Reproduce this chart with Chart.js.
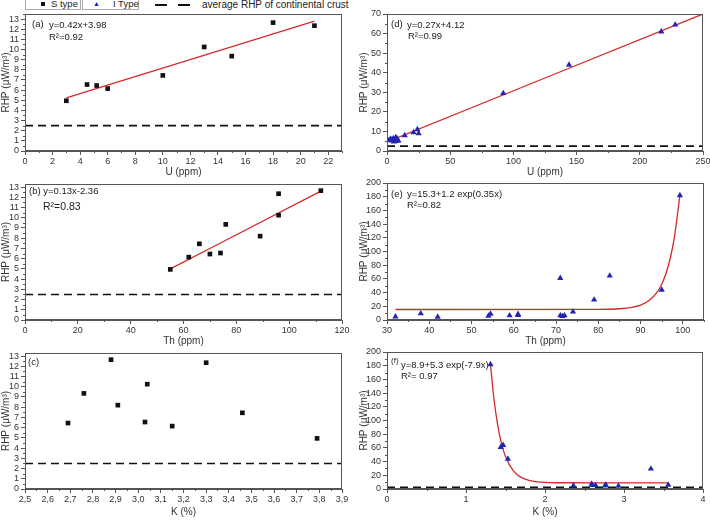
<!DOCTYPE html>
<html>
<head>
<meta charset="utf-8">
<script src="https://cdn.jsdelivr.net/npm/chart.js@4.4.1/dist/chart.umd.min.js"></script>
<style>
  body { margin: 0; width: 710px; height: 523px; overflow: hidden; background: #fff; position: relative; font-family: 'Liberation Sans', Arial, sans-serif; }
  canvas { position: absolute; }
  .box { position: absolute; top: -3px; height: 11px; border: 1px solid #aaa; font-size: 9.5px; line-height: 11px; color: #222; white-space: nowrap; }
  .dash { position: absolute; top: 4px; width: 12px; height: 2px; background: #111; }
</style>
</head>
<body>
<div class="box" style="left:25px;width:54px"><span style="position:absolute;left:15px;top:4px;width:4px;height:4px;background:#111"></span><span style="position:absolute;left:25px">S type</span></div>
<div class="box" style="left:82px;width:55px"><span style="position:absolute;left:10px;top:0;color:#2222aa;font-size:7px">&#9650;</span><span style="position:absolute;left:30px">I Type</span></div>
<div class="dash" style="left:155px"></div>
<div class="dash" style="left:178px"></div>
<div style="position:absolute;left:202px;top:-1px;font-size:10px;color:#222;white-space:nowrap">average RHP of continental crust</div>

<canvas id="pa"></canvas>
<canvas id="pb"></canvas>
<canvas id="pc"></canvas>
<canvas id="pd"></canvas>
<canvas id="pe"></canvas>
<canvas id="pf"></canvas>

<script>
'use strict';

// S type samples
const sRHP = [4.95, 6.55, 6.45, 6.15, 7.45, 10.25, 9.35, 12.65, 12.35, 8.2];
const sU = [3, 4.5, 5.2, 6, 10, 13, 15, 18, 21, null];
const sTh = [55, 74, 70, 62, 66, 96, 76, 112, 96, 89];
const sK = [3.79, 3.03, 2.69, 3.15, 3.46, 3.04, 2.76, 2.88, 3.30, 2.91];

// I type samples
const iU = [1.5, 2.5, 3, 4, 5, 5.5, 6, 7, 7.5, 8, 9, 14, 21, 24, 25, 92, 144, 217, 228];
const iU_RHP = [5.5, 5.8, 6.2, 5.2, 6.5, 4.8, 5.6, 7, 5, 6.3, 5.2, 8, 9.5, 11, 9, 29.5, 44, 61, 64.5];
const iTh = [32, 38, 42, 54, 54.5, 59, 61, 61, 71, 71, 71.5, 72, 74, 79, 82.7, 95, 99.3];
const iTh_RHP = [5, 9.5, 4.5, 6, 9, 6.5, 7, 8.5, 61, 6.5, 5.5, 6.5, 12, 29.5, 64.5, 44, 182];
const iK = [1.31, 1.44, 1.47, 1.53, 2.36, 2.59, 2.6, 2.64, 2.76, 2.77, 2.93, 3.34, 3.56];
const iK_RHP = [182, 61, 64, 44, 5, 7.5, 5.5, 5.5, 5, 6, 4.5, 29.5, 6];

// fitted curves
const fitA_x = [3, 21];
const fitA_y = [5.24, 12.8];
const fitB_x = [55, 112];
const fitB_y = [5.0, 12.6];
const fitD_x = [0, 250];
const fitD_y = [4.6, 70];
const fitE_x = [32, 80, 85, 88, 90, 92, 94, 95, 96, 97, 98, 99.3];
const fitE_y = [15.3, 15.5, 16.4, 18.5, 21.7, 28.3, 41.4, 52.3, 67.8, 89.8, 121, 182];
const fitF_x = [1.31, 1.35, 1.4, 1.45, 1.5, 1.6, 1.7, 1.8, 1.9, 2.0, 2.2, 2.6, 3.56];
const fitF_y = [182, 135, 94, 66, 47.5, 26.4, 16.9, 12.5, 10.5, 9.6, 9.1, 8.9, 8.9];

// average RHP of continental crust
const crustRHP = 2.5;

const toXY = (xs, ys) => xs.map((x, i) => ({ x: x, y: ys[i] })).filter(p => p.x !== null);

const decor = {
  id: 'decor',
  afterDraw(chart, args, opts) {
    const { ctx, chartArea: a, scales } = chart;
    ctx.save();
    ctx.strokeStyle = '#555';
    ctx.lineWidth = 1;
    ctx.strokeRect(Math.round(a.left) + 0.5, Math.round(a.top) + 0.5, Math.round(a.right - a.left) - 1, Math.round(a.bottom - a.top) - 1);
    // minor ticks
    const xs = scales.x, ys = scales.y;
    const onMajor = (v, step) => Math.abs(v / step - Math.round(v / step)) < 1e-6;
    ctx.beginPath();
    for (let k = 0; ; k++) {
      const v = xs.min + k * opts.xMinor;
      if (v > xs.max + 1e-9) break;
      if (onMajor(v, opts.xStep)) continue;
      const px = Math.round(xs.getPixelForValue(v)) + 0.5;
      ctx.moveTo(px, a.bottom);
      ctx.lineTo(px, a.bottom + 2);
    }
    for (let k = 0; ; k++) {
      const v = ys.min + k * opts.yMinor;
      if (v > ys.max + 1e-9) break;
      if (onMajor(v, opts.yStep)) continue;
      const py = Math.round(ys.getPixelForValue(v)) + 0.5;
      ctx.moveTo(a.left, py);
      ctx.lineTo(a.left - 2, py);
    }
    ctx.stroke();
    // notes
    ctx.fillStyle = '#222';
    ctx.textBaseline = 'middle';
    opts.notes.forEach(n => {
      ctx.font = (n.size || 9.5) + "px 'Liberation Sans', Arial";
      ctx.fillText(n.text, a.left + n.dx, a.top + n.dy);
    });
    ctx.restore();
  }
};

function axis(min, max, step, title, fmt, size, pad) {
  return {
    type: 'linear', min: min, max: max,
    ticks: {
      stepSize: step, includeBounds: false, autoSkip: false, maxRotation: 0,
      font: { size: 9, family: "'Liberation Sans', Arial" }, color: '#333', padding: pad,
      callback: fmt || (v => String(Math.round(v)))
    },
    grid: { drawOnChartArea: false, drawTicks: true, tickLength: 4, color: '#555' },
    border: { color: '#555' },
    title: { display: true, text: title, font: { size: 10, family: "'Liberation Sans', Arial" }, color: '#333', padding: 0 },
    afterFit: s => {
      if (s.axis === 'x') { s.height = size; s.paddingLeft = 0; s.paddingRight = 0; }
      else { s.width = size; s.paddingTop = 0; s.paddingBottom = 0; }
    }
  };
}

function makePanel(p) {
  const el = document.getElementById(p.id);
  el.width = p.width;
  el.height = p.height;
  el.style.left = p.left + 'px';
  el.style.top = p.top + 'px';
  const sets = [];
  if (p.crust) {
    sets.push({
      data: [{ x: p.x.min, y: crustRHP }, { x: p.x.max, y: crustRHP }],
      showLine: true, pointRadius: 0, borderColor: '#111', borderWidth: 1.6, borderDash: [8, 5], order: 3
    });
  }
  if (p.fit) {
    sets.push({
      data: toXY(p.fit[0], p.fit[1]), showLine: true, pointRadius: 0,
      borderColor: '#d42a2a', borderWidth: 1.3, tension: 0.4, cubicInterpolationMode: 'monotone', order: 2
    });
  }
  sets.push({
    data: p.pts,
    pointStyle: p.sType ? 'rect' : 'triangle',
    pointRadius: p.sType ? 3.3 : 3.6,
    backgroundColor: p.sType ? '#111' : '#2424b0',
    borderColor: p.sType ? '#111' : '#2424b0',
    borderWidth: 0, order: 1
  });
  new Chart(el, {
    type: 'scatter',
    data: { datasets: sets },
    options: {
      responsive: false, animation: false,
      layout: { padding: { left: 0, top: p.padTop, right: p.padRight, bottom: 0 } },
      plugins: {
        legend: { display: false }, tooltip: { enabled: false },
        decor: { xStep: p.x.step, xMinor: p.x.minor, yStep: p.y.step, yMinor: p.y.minor, notes: p.notes }
      },
      scales: {
        x: axis(p.x.min, p.x.max, p.x.step, p.x.title, p.x.fmt, p.xh, 1),
        y: axis(p.y.min, p.y.max, p.y.step, 'RHP (\u03bcW/m\u00b3)', null, p.yw, 2)
      }
    },
    plugins: [decor]
  });
}

const commaFmt = v => v.toFixed(1).replace('.', ',');

const panels = [
  { id: 'pa', left: 0, top: 8, width: 352, height: 170, yw: 25, xh: 27, padTop: 6, padRight: 10, sType: true, crust: true,
    pts: toXY(sU, sRHP), fit: [fitA_x, fitA_y],
    x: { min: 0, max: 23, step: 2, minor: 1, title: 'U (ppm)' }, y: { min: 0, max: 13.5, step: 1, minor: 0.5 },
    notes: [{ text: '(a)', dx: 7, dy: 10 }, { text: 'y=0.42x+3.98', dx: 24, dy: 11 }, { text: 'R\u00b2=0.92', dx: 24, dy: 23 }] },
  { id: 'pb', left: 0, top: 178, width: 352, height: 169, yw: 25, xh: 27, padTop: 6, padRight: 10, sType: true, crust: true,
    pts: toXY(sTh, sRHP), fit: [fitB_x, fitB_y],
    x: { min: 0, max: 120, step: 20, minor: 10, title: 'Th (ppm)' }, y: { min: 0, max: 13.3, step: 1, minor: 0.5 },
    notes: [{ text: '(b) y=0.13x-2.36', dx: 4, dy: 7 }, { text: 'R\u00b2=0.83', dx: 18, dy: 23, size: 10.5 }] },
  { id: 'pc', left: 0, top: 347, width: 352, height: 171, yw: 25, xh: 29, padTop: 6, padRight: 10, sType: true, crust: true,
    pts: toXY(sK, sRHP), fit: null,
    x: { min: 2.5, max: 3.9, step: 0.1, minor: 0.05, title: 'K (%)', fmt: commaFmt }, y: { min: 0, max: 13.3, step: 1, minor: 0.5 },
    notes: [{ text: '(c)', dx: 3, dy: 9 }] },
  { id: 'pd', left: 358, top: 8, width: 352, height: 170, yw: 29, xh: 27, padTop: 6, padRight: 7, sType: false, crust: true,
    pts: toXY(iU, iU_RHP), fit: [fitD_x, fitD_y],
    x: { min: 0, max: 250, step: 50, minor: 25, title: 'U (ppm)' }, y: { min: 0, max: 70, step: 10, minor: 5 },
    notes: [{ text: '(d)', dx: 4, dy: 10 }, { text: 'y=0.27x+4.12', dx: 20, dy: 11 }, { text: 'R\u00b2=0.99', dx: 21, dy: 22 }] },
  { id: 'pe', left: 358, top: 177, width: 352, height: 170, yw: 29, xh: 27, padTop: 6, padRight: 6, sType: false, crust: false,
    pts: toXY(iTh, iTh_RHP), fit: [fitE_x, fitE_y],
    x: { min: 30, max: 105, step: 10, minor: 5, title: 'Th (ppm)' }, y: { min: 0, max: 200, step: 20, minor: 10 },
    notes: [{ text: '(e)', dx: 4, dy: 11 }, { text: 'y=15.3+1.2 exp(0.35x)', dx: 20, dy: 11 }, { text: 'R\u00b2=0.82', dx: 20, dy: 22 }] },
  { id: 'pf', left: 358, top: 346, width: 352, height: 172, yw: 29, xh: 29, padTop: 6, padRight: 7, sType: false, crust: true,
    pts: toXY(iK, iK_RHP), fit: [fitF_x, fitF_y],
    x: { min: 0, max: 4, step: 1, minor: 0.5, title: 'K (%)' }, y: { min: 0, max: 200, step: 20, minor: 10 },
    notes: [{ text: '(f)', dx: 4, dy: 9, size: 8 }, { text: 'y=8.9+5.3 exp(-7.9x)', dx: 14, dy: 13 }, { text: 'R\u00b2= 0.97', dx: 14, dy: 24 }] }
];

panels.forEach(makePanel);
</script>
</body>
</html>
